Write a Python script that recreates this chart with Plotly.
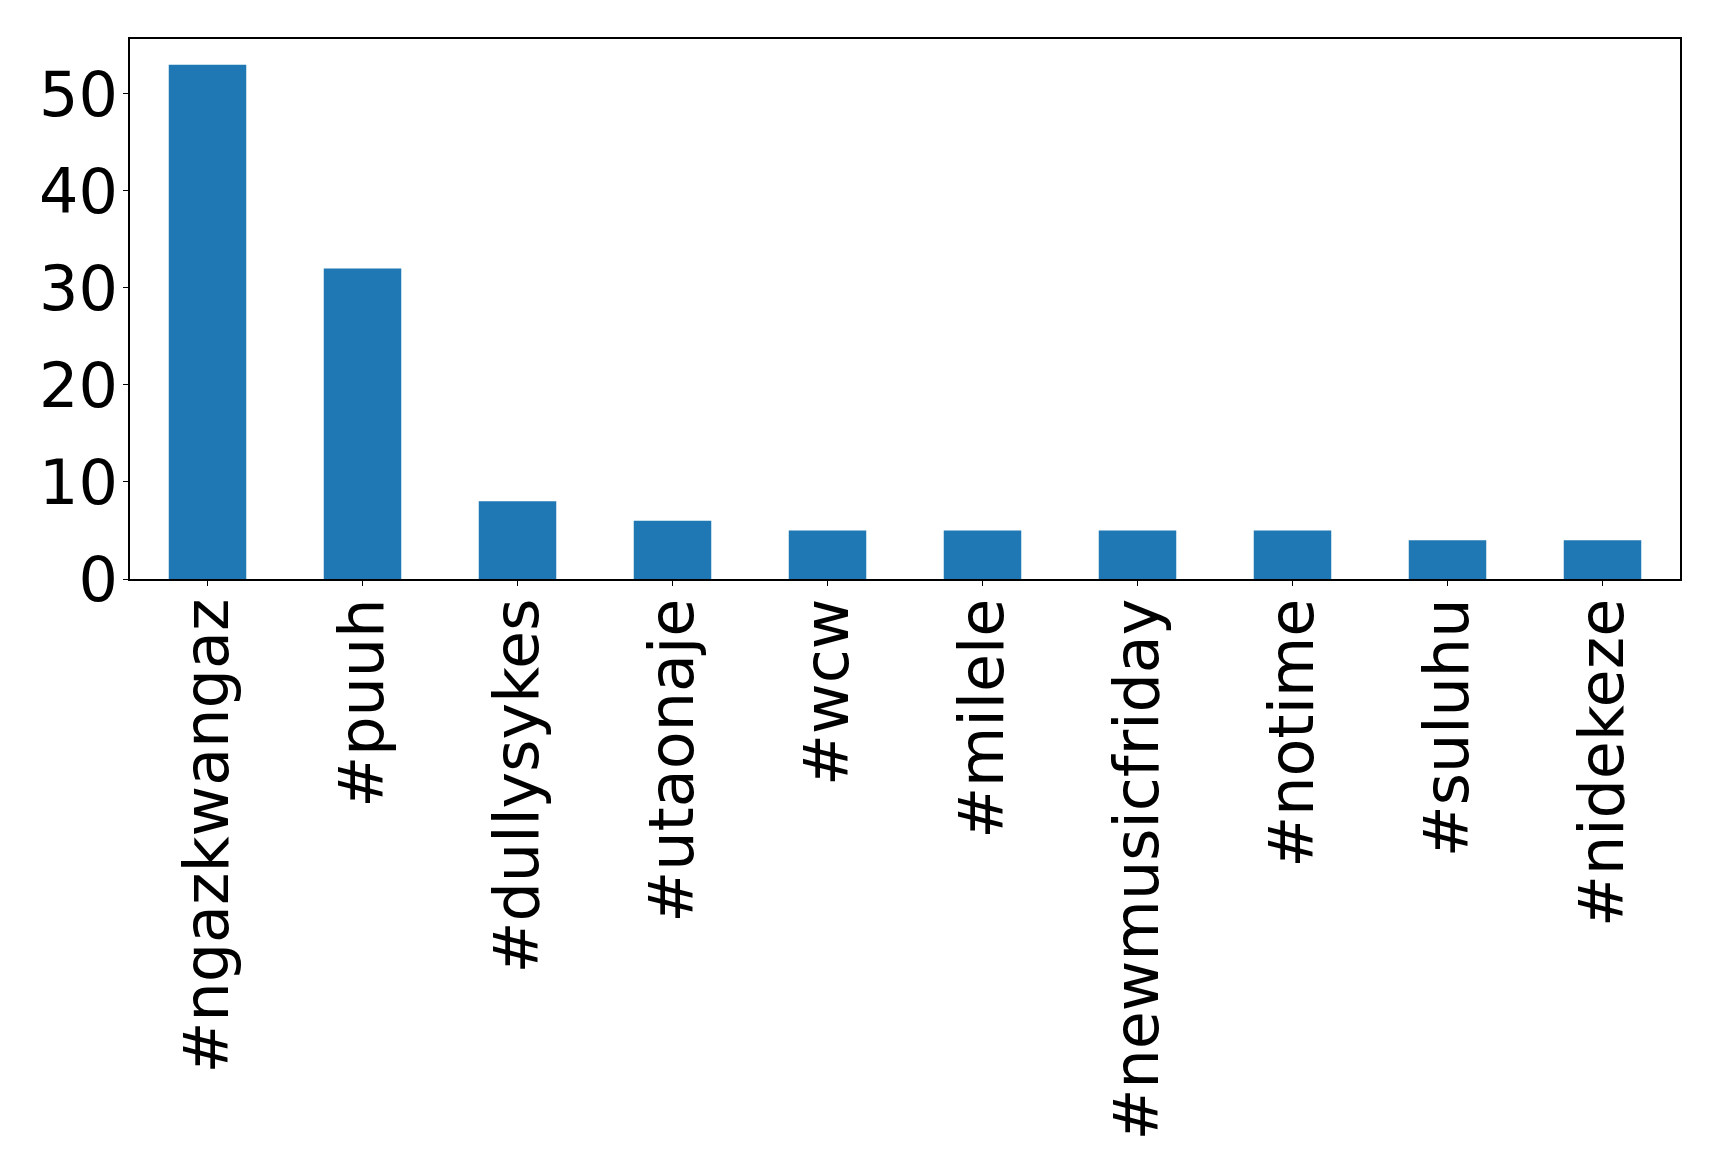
import plotly.graph_objects as go

categories = ["#ngazkwangaz", "#puuh", "#dullysykes", "#utaonaje", "#wcw",
              "#milele", "#newmusicfriday", "#notime", "#suluhu", "#nidekeze"]
counts = [53, 32, 8, 6, 5, 5, 5, 5, 4, 4]
y_ticks = [0, 10, 20, 30, 40, 50]

fig = go.Figure(go.Bar(x=categories, y=counts, marker_color="#1f77b4",
                       marker_line_width=0, width=0.5))

fig.update_layout(
    width=1703, height=1158,
    margin=dict(l=122, r=31, t=31, b=587),
    paper_bgcolor="white", plot_bgcolor="white",
    font=dict(family="DejaVu Sans", size=62, color="black"),
    showlegend=False,
    bargap=0.5,
)
fig.update_xaxes(
    range=[-0.5, 9.5], tickangle=-90, showline=True, linecolor="black",
    linewidth=1.5, mirror=True, ticks="outside", ticklen=5, tickcolor="black",
    showgrid=False, tickfont=dict(size=62), automargin=False,
    ticklabelstandoff=-12,
)
fig.update_yaxes(
    range=[0, 55.65], tickvals=y_ticks, showline=True, linecolor="black",
    linewidth=1.5, mirror=True, ticks="outside", ticklen=5, tickcolor="black",
    showgrid=False, zeroline=False, tickfont=dict(size=62), automargin=False,
    ticklabelstandoff=-7,
)

fig.write_html("out.html")
